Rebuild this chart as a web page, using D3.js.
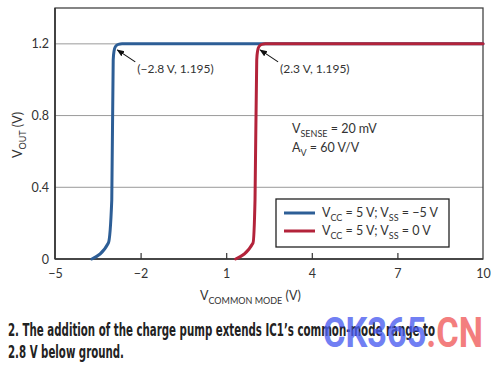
<!DOCTYPE html>
<html><head><meta charset="utf-8">
<script src="https://cdn.jsdelivr.net/npm/d3@7"></script>
<style>
body{margin:0;background:#fff;}
svg{display:block;}
.lab{font-family:Lato,"Open Sans",sans-serif;fill:#333;}
.cap{font-family:"Liberation Sans Narrow","DejaVu Sans Condensed","Roboto",sans-serif;font-weight:bold;fill:#222;font-stretch:condensed;}
</style>
</head><body>
<svg id="c" width="500" height="366"></svg>
<script>
const xTicks = [-5, -2, 1, 4, 7, 10];
const yTicks = [0, 0.4, 0.8, 1.2];
const blueX = [-3.71, -3.13, -3.01, -2.96, -2.93, -2.88, -2.78, -2.65, 10];
const blueY = [0, 0.089, 0.33, 1.11, 1.16, 1.185, 1.197, 1.2, 1.2];
const redX  = [1.33, 1.94, 2.01, 2.07, 2.10, 2.15, 2.25, 2.38, 10];
const redY  = [0, 0.089, 0.33, 1.11, 1.16, 1.185, 1.197, 1.2, 1.2];
const seriesNames = [["V","CC"," = 5 V; V","SS"," = \u22125 V"],["V","CC"," = 5 V; V","SS"," = 0 V"]];
const seriesColors = ["#2d5e96", "#b3233a"];
const annX = [-2.8, 2.3];
const annText = ["(\u22122.8 V, 1.195)", "(2.3 V, 1.195)"];
const captionLines = ["2. The addition of the charge pump extends IC1\u2019s common-mode range to", "2.8 V below ground."];

const svg = d3.select("#c");
const x = d3.scaleLinear().domain([-5, 10]).range([55, 483]);
const y = d3.scaleLinear().domain([0, 1.4]).range([259, 8]);

// gridlines
svg.append("g").selectAll("line").data(yTicks.filter(d => d > 0)).join("line")
  .attr("x1", x(-5)).attr("x2", x(10)).attr("y1", d => y(d)).attr("y2", d => y(d))
  .attr("stroke", "#9a9a9a").attr("stroke-width", 1);

// frame
svg.append("rect").attr("x", x(-5)).attr("y", y(1.4)).attr("width", x(10) - x(-5)).attr("height", y(0) - y(1.4))
  .attr("fill", "none").attr("stroke", "#444").attr("stroke-width", 1.3);
svg.append("line").attr("x1", x(-5)).attr("x2", x(10)).attr("y1", y(0)).attr("y2", y(0)).attr("stroke", "#333").attr("stroke-width", 1.6);
svg.append("line").attr("x1", x(-5)).attr("x2", x(-5)).attr("y1", y(0)).attr("y2", y(1.4)).attr("stroke", "#333").attr("stroke-width", 1.6);

// x axis
const xa = svg.append("g").attr("transform", `translate(0,${y(0)})`)
  .call(d3.axisBottom(x).tickValues(xTicks).tickSizeInner(-6).tickSizeOuter(0).tickPadding(10).tickFormat(d => d < 0 ? "\u2212" + Math.abs(d) : d));
xa.select(".domain").remove();
xa.selectAll("line").attr("stroke", "#333").attr("stroke-width", 1.2);
xa.selectAll("text").attr("class", "lab").attr("font-size", 12.5).attr("fill", "#333");
xa.selectAll(".tick").filter(d => d === -5 || d === 10).select("line").remove();

// y axis
const ya = svg.append("g").attr("transform", `translate(${x(-5)},0)`)
  .call(d3.axisLeft(y).tickValues(yTicks).tickSize(0).tickPadding(6).tickFormat(d => d === 0 ? "0" : d3.format(".1f")(d)));
ya.select(".domain").remove();
ya.selectAll("text").attr("class", "lab").attr("font-size", 12.5).attr("fill", "#333");

// lines
const line = d3.line().x(d => x(d[0])).y(d => y(d[1])).curve(d3.curveMonotoneX);
const series = [d3.zip(blueX, blueY), d3.zip(redX, redY)];
svg.append("g").selectAll("path").data(series).join("path")
  .attr("d", line).attr("fill", "none")
  .attr("stroke", (d, i) => seriesColors[i]).attr("stroke-width", 3).attr("stroke-linejoin", "round").attr("stroke-linecap", "round");

// annotations
const defs = svg.append("defs");
defs.append("marker").attr("id", "ah").attr("viewBox", "0 0 10 10").attr("refX", 9).attr("refY", 5)
  .attr("markerWidth", 7).attr("markerHeight", 7).attr("orient", "auto-start-reverse")
  .append("path").attr("d", "M0,1 L10,5 L0,9 Z").attr("fill", "#111");
annX.forEach((v, i) => {
  const tipX = x(v) + (i === 0 ? -0.5 : -3.2), tipY = y(1.2) + 6;
  svg.append("line").attr("x1", tipX + 18).attr("y1", tipY + 12).attr("x2", tipX).attr("y2", tipY)
    .attr("stroke", "#111").attr("stroke-width", 1.1).attr("marker-end", "url(#ah)");
  svg.append("text").attr("class", "lab").attr("x", tipX + 20).attr("y", tipY + 23)
    .attr("font-size", 12).attr("fill", "#222").text(annText[i]);
});

// params text
function subText(g, parts, px, py, fs) {
  const t = g.append("text").attr("class", "lab").attr("x", px).attr("y", py).attr("font-size", fs).attr("fill", "#222");
  parts.forEach((p, k) => {
    const sub = k % 2 === 1;
    t.append("tspan").attr("font-size", sub ? fs * 0.72 : fs).attr("dy", k === 0 ? 0 : (sub ? 3.5 : -3.5)).text(p);
  });
  return t;
}
subText(svg, ["V", "SENSE", " = 20 mV"], 292, 133, 12.5);
subText(svg, ["A", "V", " = 60 V/V"], 292, 152, 12.5);

// legend
svg.append("rect").attr("x", 276).attr("y", 199).attr("width", 173).attr("height", 48)
  .attr("fill", "#fff").attr("stroke", "#222").attr("stroke-width", 1.3);
seriesNames.forEach((nm, i) => {
  const ly = 213 + i * 18;
  svg.append("line").attr("x1", 284).attr("x2", 315).attr("y1", ly).attr("y2", ly)
    .attr("stroke", seriesColors[i]).attr("stroke-width", 3);
  subText(svg, nm, 322, ly + 4, 12.5);
});

// axis titles
subText(svg, ["V", "COMMON MODE", " (V)"], 200, 300, 12.5);
const yl = svg.append("text").attr("class", "lab").attr("transform", "translate(22,135) rotate(-90)")
  .attr("text-anchor", "middle").attr("font-size", 12.5).attr("fill", "#222");
yl.append("tspan").text("V");
yl.append("tspan").attr("font-size", 9).attr("dy", 3.5).text("OUT");
yl.append("tspan").attr("dy", -3.5).text(" (V)");

// caption
svg.append("text").attr("class", "cap").attr("x", 8).attr("y", 336).attr("font-size", 17.5)
  .attr("textLength", 427).attr("lengthAdjust", "spacingAndGlyphs").text(captionLines[0]);
svg.append("text").attr("class", "cap").attr("x", 8).attr("y", 358).attr("font-size", 17.5)
  .attr("textLength", 116).attr("lengthAdjust", "spacingAndGlyphs").text(captionLines[1]);

// watermark
const wm = svg.append("text").attr("x", 323).attr("y", 347).attr("font-family", "Roboto, 'DejaVu Sans', sans-serif")
  .attr("font-weight", "bold").attr("font-size", 42).attr("opacity", 0.78)
  .attr("textLength", 160).attr("lengthAdjust", "spacingAndGlyphs");
wm.append("tspan").attr("fill", "#4a5cf0").text("CK365");
wm.append("tspan").attr("fill", "#f05a5a").text(".CN");
</script>
</body></html>
